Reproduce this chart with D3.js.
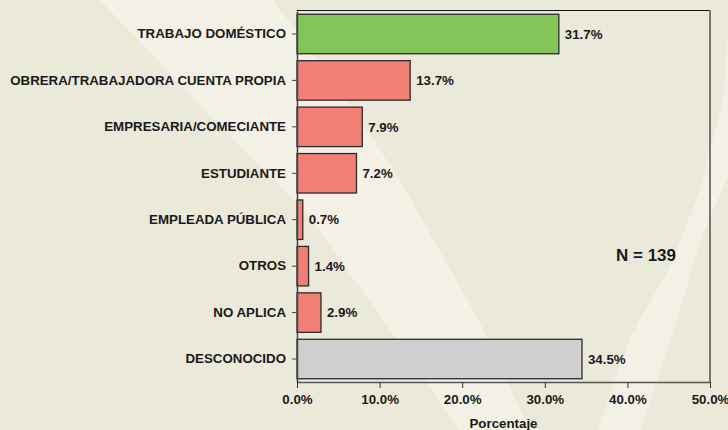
<!DOCTYPE html>
<meta charset="utf-8">
<style>
body { margin: 0; background: #ebe9da; }
svg { display: block; font-family: "Liberation Sans", Arial, sans-serif; }
.axis text { font-size: 13.3px; font-weight: bold; fill: #1a1a1a; }
.val { font-size: 13.3px; font-weight: bold; fill: #1a1a1a; }
</style>

<svg width="728" height="430"></svg>
<script src="https://d3js.org/d3.v7.min.js"></script>
<script>

var categories = ["TRABAJO DOMÉSTICO", "OBRERA/TRABAJADORA CUENTA PROPIA",
  "EMPRESARIA/COMECIANTE", "ESTUDIANTE", "EMPLEADA PÚBLICA", "OTROS",
  "NO APLICA", "DESCONOCIDO"];
var values = [31.7, 13.7, 7.9, 7.2, 0.7, 1.4, 2.9, 34.5];
var groups = ["principal", "otra", "otra", "otra", "otra", "otra", "otra", "desconocido"];
var xTicks = [0, 10, 20, 30, 40, 50];
var totalN = 139;

var svg = d3.select("svg"),
    width = +svg.attr("width"),
    height = +svg.attr("height");

// light diagonal bands in the backdrop
var bands = [
  [[100,0],[200,105],[307,213],[397,340],[460,430],[530,430],[480,323],[400,180],[340,90],[273,0]],
  [[728,28],[723,100],[700,190],[670,267],[632,333],[597,430],[640,430],[673,333],[703,233],[728,177]]
];
svg.append("rect").attr("width", width).attr("height", height).attr("fill", "#ebe9da");
svg.selectAll(".band")
  .data(bands)
  .enter().append("path")
    .attr("class", "band")
    .attr("fill", "#f3f1e5")
    .attr("d", function(d) { return "M" + d.join("L") + "Z"; });

var margin = {top: 11, right: 18, bottom: 48, left: 297};

var x = d3.scaleLinear()
  .domain([0, 50])
  .range([margin.left, 710]);

var y = d3.scaleBand()
  .domain(categories)
  .range([margin.top, 382])
  .paddingInner(0.15)
  .paddingOuter(0.07);

var color = d3.scaleOrdinal()
  .domain(["principal", "otra", "desconocido"])
  .range(["#84c55a", "#f47f77", "#cfcfcf"]);

// frame: top and right
svg.append("line")
  .attr("x1", x(0)).attr("x2", x(50))
  .attr("y1", margin.top - 0.5).attr("y2", margin.top - 0.5)
  .attr("stroke", "#111").attr("stroke-width", 1);
svg.append("line")
  .attr("x1", x(50)).attr("x2", x(50))
  .attr("y1", margin.top - 1).attr("y2", 382)
  .attr("stroke", "#777").attr("stroke-width", 2);

var data = categories.map(function(c, i) {
  return {cat: c, value: values[i], group: groups[i]};
});

svg.append("g")
  .selectAll("rect")
  .data(data)
  .enter().append("rect")
    .attr("x", x(0))
    .attr("y", function(d) { return y(d.cat); })
    .attr("width", function(d) { return x(d.value) - x(0); })
    .attr("height", y.bandwidth())
    .attr("fill", function(d) { return color(d.group); })
    .attr("stroke", "#2b2b2b")
    .attr("stroke-width", 1.3);

svg.append("g")
  .selectAll("text")
  .data(data)
  .enter().append("text")
    .attr("class", "val")
    .attr("x", function(d) { return x(d.value) + 6; })
    .attr("y", function(d) { return y(d.cat) + y.bandwidth() / 2; })
    .attr("dy", "0.35em")
    .text(function(d) { return d.value.toFixed(1) + "%"; });

var yAxis = svg.append("g")
  .attr("class", "axis")
  .attr("transform", "translate(" + x(0) + ",0)")
  .call(d3.axisLeft(y).tickSize(5).tickPadding(6).tickSizeOuter(0));
yAxis.select(".domain").attr("stroke", "#444").attr("stroke-width", 1.5);
yAxis.selectAll(".tick line").attr("stroke", "#444");

var xAxis = svg.append("g")
  .attr("class", "axis")
  .attr("transform", "translate(0,382)")
  .call(d3.axisBottom(x)
    .tickValues(xTicks)
    .tickSize(6)
    .tickSizeOuter(0)
    .tickPadding(7)
    .tickFormat(function(d) { return d.toFixed(1) + "%"; }));
xAxis.select(".domain").attr("stroke", "#555").attr("stroke-width", 1.5);
xAxis.selectAll(".tick line").attr("stroke", "#333");

svg.append("text")
  .attr("x", (x(0) + x(50)) / 2)
  .attr("y", 428)
  .attr("text-anchor", "middle")
  .attr("font-size", "13.3px")
  .attr("font-weight", "bold")
  .attr("fill", "#1a1a1a")
  .text("Porcentaje");

svg.append("text")
  .attr("x", 646)
  .attr("y", 261)
  .attr("text-anchor", "middle")
  .attr("font-size", "17px")
  .attr("font-weight", "bold")
  .attr("fill", "#1a1a1a")
  .text("N = " + totalN);

</script>
